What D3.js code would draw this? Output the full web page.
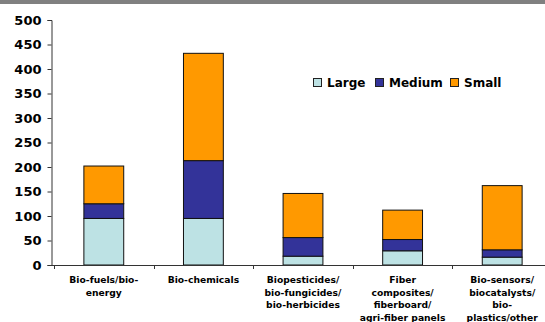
<!DOCTYPE html>
<html>
<head>
<meta charset="utf-8">
<script src="https://cdn.jsdelivr.net/npm/d3@7"></script>
<style>
  body { margin: 0; background: #fff; }
  svg { display: block; }
</style>
</head>
<body>
<svg id="chart" width="545" height="322"></svg>
<script>
// Market segments and the company-size split within each
const categories = [
  ["Bio-fuels/bio-", "energy"],
  ["Bio-chemicals"],
  ["Biopesticides/", "bio-fungicides/", "bio-herbicides"],
  ["Fiber", "composites/", "fiberboard/", "agri-fiber panels"],
  ["Bio-sensors/", "biocatalysts/", "bio-", "plastics/other"]
];
const seriesNames = ["Large", "Medium", "Small"];
const large  = [95, 95, 18, 29, 16];
const medium = [30, 118, 38, 23, 15];
const small  = [77, 219, 90, 60, 131];
const yTicks = [0, 50, 100, 150, 200, 250, 300, 350, 400, 450, 500];
const colors = ["#bde2e4", "#333399", "#ff9900"];

const svg = d3.select("#chart");

// grey band along the top edge
svg.append("rect").attr("x", 0).attr("y", 0).attr("width", 545).attr("height", 4).attr("fill", "#808080");

const rows = categories.map((c, i) => ({ key: i, Large: large[i], Medium: medium[i], Small: small[i] }));
const stack = d3.stack().keys(seriesNames)(rows);

const x = d3.scaleBand().domain(d3.range(categories.length)).range([54, 552]).paddingInner(0.6).paddingOuter(0.3);
const y = d3.scaleLinear().domain([0, 500]).range([265, 20]);

// stacked bars
svg.append("g").selectAll("g").data(stack).join("g")
  .attr("fill", (d, i) => colors[i])
  .selectAll("rect").data(d => d).join("rect")
  .attr("x", (d, i) => x(i))
  .attr("width", x.bandwidth())
  .attr("y", d => y(d[1]))
  .attr("height", d => y(d[0]) - y(d[1]))
  .attr("stroke", "#111")
  .attr("stroke-width", 1);

// y axis
const yAxis = svg.append("g").attr("transform", "translate(51.5,0)")
  .call(d3.axisLeft(y).tickValues(yTicks).tickSize(4).tickPadding(6));
yAxis.select(".domain").attr("stroke", "#333");
yAxis.selectAll(".tick line").attr("stroke", "#333");
yAxis.selectAll("text").attr("font-family", "DejaVu Sans").attr("font-weight", "bold")
  .attr("font-size", 13).attr("fill", "#000");

// x axis with ticks on category boundaries
const step = x.step();
const boundaries = d3.range(categories.length + 1).map(i => x(0) - x.paddingInner() * step / 2 + i * step);
const xg = svg.append("g");
xg.append("line").attr("x1", 51.5).attr("x2", 545).attr("y1", 265.5).attr("y2", 265.5).attr("stroke", "#333");
xg.selectAll("line.tk").data(boundaries).join("line").attr("class", "tk")
  .attr("x1", d => Math.round(d) + 0.5).attr("x2", d => Math.round(d) + 0.5)
  .attr("y1", 265).attr("y2", 269).attr("stroke", "#333");

// category labels
const lbl = svg.append("g").selectAll("text").data(categories).join("text")
  .attr("x", (d, i) => x(i) + x.bandwidth() / 2)
  .attr("y", 283)
  .attr("text-anchor", "middle")
  .attr("font-family", "DejaVu Sans").attr("font-weight", "bold").attr("font-size", 9.2).attr("fill", "#000");
lbl.selectAll("tspan").data(d => d).join("tspan")
  .attr("x", function () { return this.parentNode.getAttribute("x"); })
  .attr("dy", (d, i) => i === 0 ? 0 : 12.7)
  .text(d => d);

// legend
const legendX = [313, 375, 450];
const lg = svg.append("g").selectAll("g").data(seriesNames).join("g")
  .attr("transform", (d, i) => `translate(${legendX[i]},78)`);
lg.append("rect").attr("x", 0.5).attr("y", 0.5).attr("width", 8).attr("height", 8)
  .attr("fill", (d, i) => colors[i]).attr("stroke", "#222");
lg.append("text").attr("x", 14).attr("y", 9)
  .attr("font-family", "DejaVu Sans").attr("font-weight", "bold").attr("font-size", 12).attr("fill", "#000")
  .text(d => d);
</script>
</body>
</html>
